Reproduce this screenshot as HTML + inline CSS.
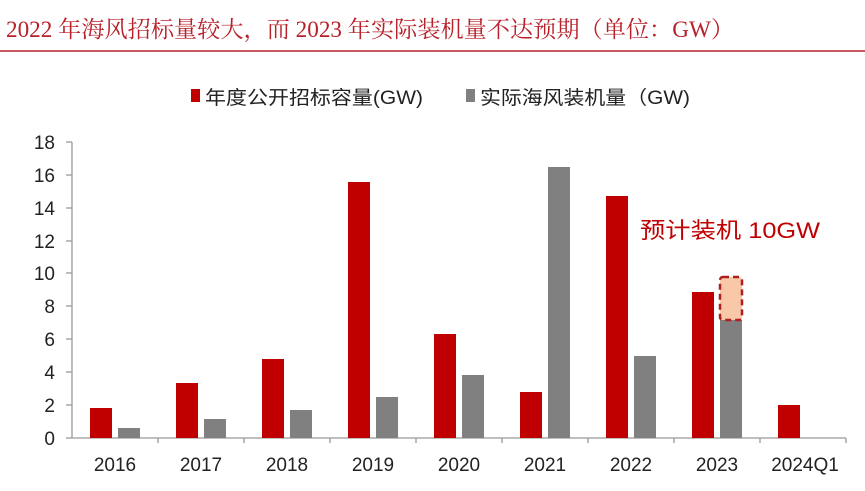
<!DOCTYPE html><html><head><meta charset="utf-8"><style>body{margin:0;background:#fff;width:865px;height:486px;overflow:hidden}</style></head><body>
<svg width="865" height="486" xmlns="http://www.w3.org/2000/svg" font-family="Liberation Sans, Noto Sans CJK SC, sans-serif">
<text x="6" y="37" font-family="Liberation Serif, Noto Serif CJK SC, serif" font-size="23" fill="#b8202a" textLength="728" lengthAdjust="spacingAndGlyphs">2022 年海风招标量较大，而 2023 年实际装机量不达预期（单位：GW）</text>
<line x1="0" y1="51" x2="865" y2="51" stroke="#b8202a" stroke-width="1.5"/>
<rect x="191" y="89" width="9" height="13" fill="#c00000"/>
<text x="205" y="104" font-size="19" fill="#222" textLength="218" lengthAdjust="spacingAndGlyphs">年度公开招标容量(GW)</text>
<rect x="466" y="89" width="9" height="13" fill="#808080"/>
<text x="480" y="104" font-size="19" fill="#222" textLength="210" lengthAdjust="spacingAndGlyphs">实际海风装机量（GW)</text>
<g stroke="#999" stroke-width="1.3">
<line x1="72" y1="142" x2="72" y2="438"/><line x1="72" y1="438" x2="846" y2="438"/>
<line x1="66" y1="142" x2="72" y2="142"/><line x1="66" y1="175" x2="72" y2="175"/><line x1="66" y1="208" x2="72" y2="208"/><line x1="66" y1="241" x2="72" y2="241"/><line x1="66" y1="273" x2="72" y2="273"/><line x1="66" y1="306" x2="72" y2="306"/><line x1="66" y1="339" x2="72" y2="339"/><line x1="66" y1="372" x2="72" y2="372"/><line x1="66" y1="405" x2="72" y2="405"/><line x1="66" y1="438" x2="72" y2="438"/>
<line x1="158" y1="438" x2="158" y2="443"/><line x1="244" y1="438" x2="244" y2="443"/><line x1="330" y1="438" x2="330" y2="443"/><line x1="416" y1="438" x2="416" y2="443"/><line x1="502" y1="438" x2="502" y2="443"/><line x1="588" y1="438" x2="588" y2="443"/><line x1="674" y1="438" x2="674" y2="443"/><line x1="760" y1="438" x2="760" y2="443"/><line x1="846" y1="438" x2="846" y2="443"/>
</g>
<g font-size="19" fill="#222" text-anchor="end">
<text x="55" y="149">18</text><text x="55" y="182">16</text><text x="55" y="215">14</text><text x="55" y="248">12</text><text x="55" y="280">10</text><text x="55" y="313">8</text><text x="55" y="346">6</text><text x="55" y="379">4</text><text x="55" y="412">2</text><text x="55" y="445">0</text>
</g>
<g font-size="19" fill="#222" text-anchor="middle">
<text x="115" y="471">2016</text><text x="201" y="471">2017</text><text x="287" y="471">2018</text><text x="373" y="471">2019</text><text x="459" y="471">2020</text><text x="545" y="471">2021</text><text x="631" y="471">2022</text><text x="717" y="471">2023</text><text x="805" y="471">2024Q1</text>
</g>
<g fill="#c00000">
<rect x="90" y="408" width="22" height="30"/><rect x="176" y="383" width="22" height="55"/><rect x="262" y="359" width="22" height="79"/><rect x="348" y="182" width="22" height="256"/><rect x="434" y="334" width="22" height="104"/><rect x="520" y="392" width="22" height="46"/><rect x="606" y="196" width="22" height="242"/><rect x="692" y="292" width="22" height="146"/><rect x="778" y="405" width="22" height="33"/>
</g>
<g fill="#808080">
<rect x="118" y="428" width="22" height="10"/><rect x="204" y="419" width="22" height="19"/><rect x="290" y="410" width="22" height="28"/><rect x="376" y="397" width="22" height="41"/><rect x="462" y="375" width="22" height="63"/><rect x="548" y="167" width="22" height="271"/><rect x="634" y="356" width="22" height="82"/><rect x="720" y="320" width="22" height="118"/>
</g>
<rect x="720" y="277" width="22" height="43" rx="3" fill="#f8c8a8" stroke="#b01e1e" stroke-width="2.5" stroke-dasharray="6,4"/>
<text x="640" y="238" font-size="22" fill="#c00000" textLength="180" lengthAdjust="spacingAndGlyphs">预计装机 10GW</text>
</svg></body></html>
